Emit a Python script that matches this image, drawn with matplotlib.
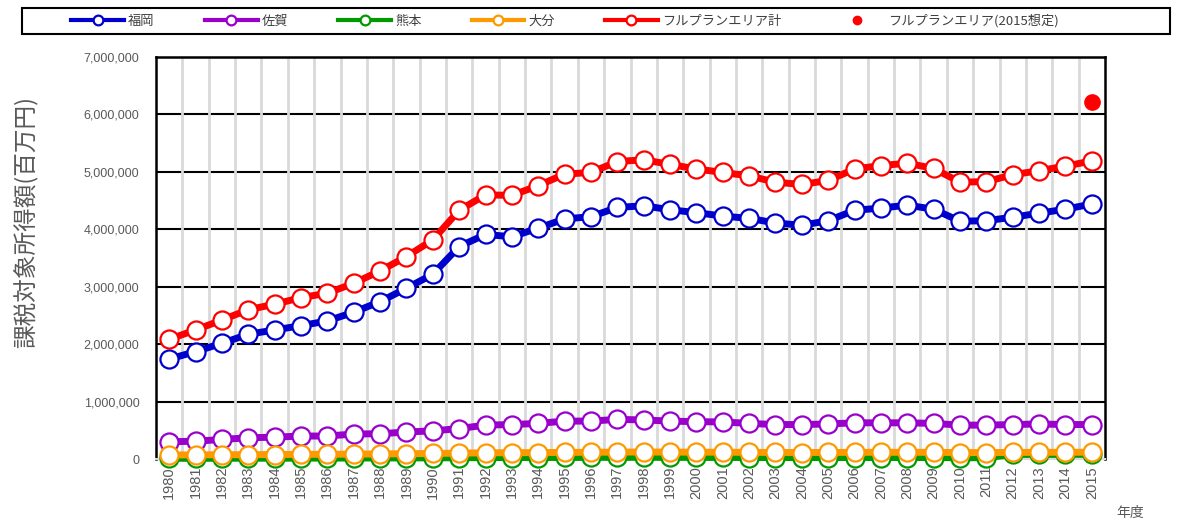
import matplotlib
matplotlib.use("Agg")
import matplotlib.pyplot as plt
import numpy as np
from matplotlib.ticker import FuncFormatter, MultipleLocator
from matplotlib.lines import Line2D
from matplotlib.patches import Rectangle

plt.rcParams['font.family'] = ['Noto Sans CJK JP', 'DejaVu Sans']

# 年度
years = list(range(1980, 2016))

# 課税対象所得額 (百万円)
fukuoka = [1740000, 1870000, 2015000, 2172000, 2247000, 2322000, 2404000, 2556000,
           2740000, 2973000, 3217000, 3700000, 3910000, 3870000, 4020000, 4180000,
           4220000, 4380000, 4410000, 4340000, 4290000, 4230000, 4190000, 4110000,
           4070000, 4150000, 4330000, 4370000, 4420000, 4350000, 4140000, 4150000,
           4210000, 4280000, 4350000, 4440000]
saga = [300000, 310000, 340000, 370000, 380000, 400000, 400000, 435000,
        440000, 470000, 490000, 530000, 590000, 600000, 620000, 660000,
        660000, 690000, 680000, 660000, 650000, 645000, 620000, 600000,
        600000, 610000, 630000, 630000, 630000, 620000, 590000, 590000,
        600000, 610000, 600000, 600000]
kumamoto = [12000, 12000, 13000, 14000, 14000, 15000, 16000, 17000,
            18000, 19000, 20000, 22000, 24000, 25000, 26000, 27000,
            28000, 29000, 29000, 28000, 28000, 27000, 26000, 25000,
            25000, 25000, 26000, 26000, 26000, 25000, 22000, 22000,
            80000, 80000, 81000, 82000]
oita = [70000, 72000, 74000, 76000, 78000, 80000, 82000, 85000,
        88000, 92000, 96000, 102000, 108000, 110000, 112000, 115000,
        117000, 120000, 122000, 120000, 119000, 118000, 116000, 114000,
        113000, 114000, 116000, 117000, 117000, 116000, 112000, 112000,
        114000, 116000, 117000, 118000]
fullplan = [2085000, 2247000, 2420000, 2600000, 2695000, 2810000, 2887000, 3060000,
            3275000, 3525000, 3815000, 4330000, 4600000, 4590000, 4760000, 4960000,
            4990000, 5180000, 5210000, 5130000, 5050000, 4990000, 4930000, 4820000,
            4780000, 4850000, 5050000, 5110000, 5150000, 5060000, 4820000, 4830000,
            4950000, 5020000, 5100000, 5190000]
fullplan_2015 = 6220000

series = [
    ("福岡", fukuoka, "#0000cc"),
    ("佐賀", saga, "#9900cc"),
    ("熊本", kumamoto, "#009900"),
    ("大分", oita, "#ff9900"),
    ("フルプランエリア計", fullplan, "#ff0000"),
]

fig = plt.figure(figsize=(11.8, 5.25), dpi=100)
ax = fig.add_axes([156 / 1180, 1 - 459 / 525, 949 / 1180, 402 / 525])

x = np.arange(len(years))
handles = []
for name, vals, col in series:
    ax.plot(x, vals, color=col, lw=5, marker='o', ms=13, mfc='white',
            mec=col, mew=1.6, zorder=3, clip_on=False)
    handles.append(Line2D([], [], color=col, lw=3, marker='o', ms=7,
                          mfc='white', mec=col, mew=1.6, label=name))
ax.plot([x[-1]], [fullplan_2015], 'o', color='#ff0000', ms=11, zorder=4)
handles.append(Line2D([], [], color='#ff0000', lw=0, marker='o', ms=6,
                      label="フルプランエリア(2015想定)"))

ax.set_xlim(-0.5, len(years) - 0.5)
ax.set_ylim(0, 7000000)
ax.yaxis.set_major_locator(MultipleLocator(1000000))
ax.yaxis.set_major_formatter(FuncFormatter(lambda v, p: f"{int(v):,}"))
ax.set_xticks(x)
ax.set_xticklabels([str(y) for y in years], rotation=90, fontsize=10.5,
                   color='#595959', family=['Liberation Sans', 'DejaVu Sans'])
for lab in ax.get_yticklabels():
    lab.set_fontsize(9)
    lab.set_color('#595959')
    lab.set_family(['Liberation Sans', 'DejaVu Sans'])
ax.tick_params(axis='y', length=0, pad=12)
ax.tick_params(axis='x', length=0, pad=5)

# 縦の補助線 (区切り)
for b in np.arange(0.5, len(years) - 0.5, 1):
    ax.axvline(b, color='#d9d9d9', lw=2, zorder=1)
ax.yaxis.grid(True, color='black', lw=1.5, zorder=2)
ax.set_axisbelow(True)
for s in ['left', 'right', 'top']:
    ax.spines[s].set_color('black')
    ax.spines[s].set_linewidth(1.8)
ax.spines['bottom'].set_color('#d9d9d9')
ax.spines['bottom'].set_linewidth(1.5)

ax.set_ylabel("課税対象所得額(百万円)", fontsize=17, color='#595959')
ax.yaxis.set_label_coords(-0.124, 0.59)
fig.text(1130 / 1180, 1 - 513 / 525, "年度", fontsize=10, color='#595959',
         ha='center', va='center')

# 凡例の枠
fig.patches.append(Rectangle((22 / 1180, 1 - 34 / 525), 1148 / 1180, 26 / 525,
                             transform=fig.transFigure, fill=False,
                             edgecolor='black', lw=1.5))
leg = fig.legend(handles=handles, loc='center', ncol=6,
                 bbox_to_anchor=(565 / 1180, 1 - 21 / 525),
                 frameon=False, fontsize=9.5, handlelength=4,
                 columnspacing=3.8, handletextpad=0.3)
for t in leg.get_texts():
    t.set_color('#404040')

fig.savefig("out.png", dpi=100)
